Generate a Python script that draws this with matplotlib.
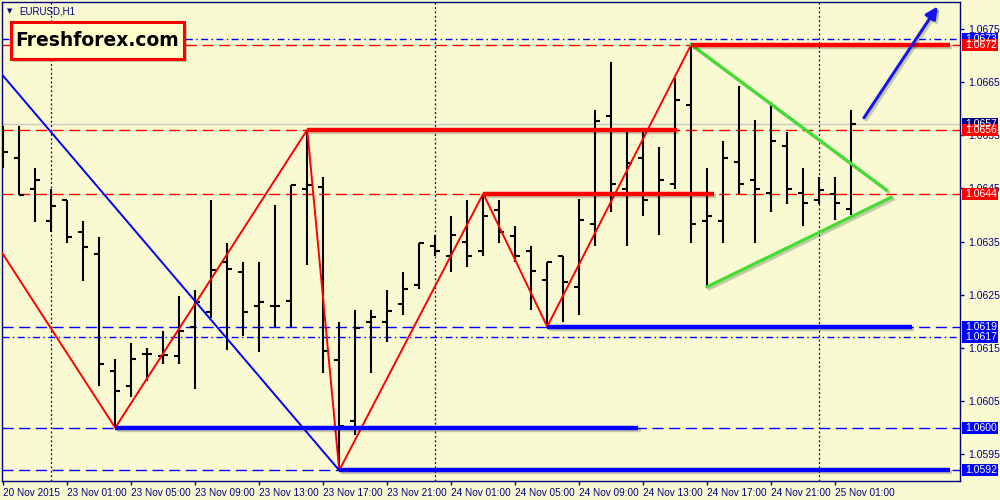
import matplotlib
matplotlib.use('Agg')
import matplotlib.pyplot as plt
import matplotlib.patheffects as pe
from matplotlib.patches import Rectangle
import numpy as np

plt.rcParams['font.family'] = ['Liberation Sans', 'DejaVu Sans']

BG = '#fafad2'; NAVY = '#000080'; RED = '#ff0000'; BLUE = '#0000ff'; GREEN = '#44dd33'

# EURUSD H1 bars, 20 Nov 21:00 .. 25 Nov 02:00
opens = [1.06541, 1.06506, 1.06449, 1.06389, 1.06428, 1.06367, 1.06327, 1.06107, 1.06079, 1.06139,
         1.06134, 1.06134, 1.06190, 1.06218, 1.06311, 1.06292, 1.06229, 1.06229, 1.06238, 1.06449,
         1.06452, 1.06127, 1.06013, 1.06199, 1.06199, 1.06233, 1.06268, 1.06341, 1.06323, 1.06349,
         1.06333, 1.06410, 1.06361, 1.06332, 1.06278, 1.06322, 1.06264, 1.06382, 1.06586, 1.06448,
         1.06506, 1.06437, 1.06458, 1.06606, 1.06389, 1.06389, 1.06499, 1.06466, 1.06442, 1.06530,
         1.06442, 1.06428, 1.06440, 1.06412]
highs = [1.06567, 1.06567, 1.06488, 1.06449, 1.06428, 1.06388, 1.06359, 1.06129, 1.06159, 1.06149,
         1.06182, 1.06248, 1.06259, 1.06428, 1.06347, 1.06311, 1.06311, 1.06418, 1.06456, 1.06560,
         1.06471, 1.06199, 1.06221, 1.06221, 1.06259, 1.06293, 1.06347, 1.06362, 1.06398, 1.06428,
         1.06440, 1.06428, 1.06380, 1.06341, 1.06311, 1.06322, 1.06430, 1.06597, 1.06687, 1.06556,
         1.06556, 1.06527, 1.06657, 1.06720, 1.06488, 1.06539, 1.06642, 1.06578, 1.06612, 1.06556,
         1.06488, 1.06471, 1.06471, 1.06597]
lows = [1.06488, 1.06437, 1.06387, 1.06367, 1.06347, 1.06276, 1.06079, 1.06000, 1.06058, 1.06087,
        1.06120, 1.06120, 1.06072, 1.06206, 1.06147, 1.06172, 1.06142, 1.06189, 1.06189, 1.06306,
        1.06103, 1.05920, 1.05986, 1.06102, 1.06162, 1.06211, 1.06261, 1.06322, 1.06292, 1.06302,
        1.06322, 1.06347, 1.06311, 1.06221, 1.06190, 1.06199, 1.06211, 1.06341, 1.06406, 1.06341,
        1.06397, 1.06362, 1.06448, 1.06347, 1.06265, 1.06347, 1.06440, 1.06347, 1.06406, 1.06421,
        1.06380, 1.06421, 1.06391, 1.06399]
closes = [1.06519, 1.06437, 1.06466, 1.06417, 1.06359, 1.06339, 1.06119, 1.06070, 1.06129, 1.06139,
          1.06137, 1.06181, 1.06237, 1.06296, 1.06298, 1.06218, 1.06237, 1.06229, 1.06456, 1.06456,
          1.06144, 1.06003, 1.06188, 1.06209, 1.06220, 1.06261, 1.06347, 1.06332, 1.06362, 1.06323,
          1.06397, 1.06368, 1.06323, 1.06294, 1.06311, 1.06273, 1.06391, 1.06577, 1.06458, 1.06497,
          1.06428, 1.06466, 1.06616, 1.06382, 1.06397, 1.06506, 1.06458, 1.06449, 1.06539, 1.06449,
          1.06423, 1.06447, 1.06423, 1.06570]

# zigzag + trend lines (bar index, price)
zz_x = [-0.06, 7, 19, 21, 30, 34, 43]
zz_y = [1.06328, 1.0600, 1.0656, 1.0592, 1.0644, 1.0619, 1.0672]
diag_x = [-0.06, 21]; diag_y = [1.06663, 1.0592]
tri_up_x = [43, 55.2]; tri_up_y = [1.0672, 1.06447]
tri_lo_x = [44, 55.5]; tri_lo_y = [1.06265, 1.06433]
arrow_from = (53.7, 1.06578); arrow_to = (58.5, 1.06796)

# support / resistance levels: price, start bar, end bar
res_levels = [(1.0672, 43, 59.2), (1.0656, 19, 42.1), (1.0644, 30, 44.4)]
sup_levels = [(1.0619, 34, 56.8), (1.0600, 7, 39.7), (1.0592, 21, 59.2)]
dashdot_levels = [1.0673, 1.0617]
bid = 1.0657

yticks = [1.0595, 1.0605, 1.0615, 1.0625, 1.0635, 1.0645, 1.0655, 1.0665, 1.0675]
xtick_pos = [0, 4, 8, 12, 16, 20, 24, 28, 32, 36, 40, 44, 48, 52]
xtick_lab = ['20 Nov 2015', '23 Nov 01:00', '23 Nov 05:00', '23 Nov 09:00', '23 Nov 13:00',
             '23 Nov 17:00', '23 Nov 21:00', '24 Nov 01:00', '24 Nov 05:00', '24 Nov 09:00',
             '24 Nov 13:00', '24 Nov 17:00', '24 Nov 21:00', '25 Nov 01:00']
day_lines = [3, 27, 51]
# right-hand price boxes (drawn in this order)
box_prices = [1.0673, 1.0672, 1.0657, 1.0656, 1.0644, 1.0619, 1.0617, 1.0600, 1.0592]
box_colors = [BLUE, RED, NAVY, RED, RED, BLUE, BLUE, BLUE, BLUE]

fig = plt.figure(figsize=(10, 5), dpi=100, facecolor=BG)
ax = fig.add_axes([0.0023, 0.038, 0.9577, 0.958], facecolor=BG)
ax.set_xlim(-0.06, 59.8); ax.set_ylim(1.0590, 1.0680)

shadow = [pe.SimpleLineShadow(offset=(1.5, -1.5), shadow_color='k', alpha=0.2), pe.Normal()]

# level dashed lines
for p, _, _ in res_levels:
    ax.axhline(p, color=RED, lw=1, ls=(0, (8, 4)), zorder=1)
for p, _, _ in sup_levels:
    ax.axhline(p, color=BLUE, lw=1, ls=(0, (8, 4)), zorder=1)
for p in dashdot_levels:
    ax.axhline(p, color=BLUE, lw=1, ls=(0, (5, 2.5, 1, 2.5)), zorder=1)
ax.axhline(bid, color='#c8c8c8', lw=1, zorder=1)
for d in day_lines:
    ax.axvline(d, color=NAVY, lw=0.9, ls=(0, (1.5, 2)), zorder=1)

# OHLC bars
x = np.arange(len(opens))
ax.vlines(x, lows, highs, color='k', lw=1.5, zorder=3)
ax.hlines(opens, x - 0.32, x, color='k', lw=1.5, zorder=3)
ax.hlines(closes, x, x + 0.32, color='k', lw=1.5, zorder=3)

# zigzag, diagonal, triangle
ax.plot(zz_x, zz_y, color=RED, lw=1.4, zorder=4)
ax.plot(diag_x, diag_y, color=BLUE, lw=1.4, zorder=4)
ax.plot(tri_up_x, tri_up_y, color=GREEN, lw=2.3, zorder=5, path_effects=shadow)
ax.plot(tri_lo_x, tri_lo_y, color=GREEN, lw=2.3, zorder=5, path_effects=shadow)

for p, a, b in res_levels:
    ax.plot([a, b], [p, p], color=RED, lw=3.2, solid_capstyle='butt', zorder=5, path_effects=shadow)
for p, a, b in sup_levels:
    ax.plot([a, b], [p, p], color=BLUE, lw=3.2, solid_capstyle='butt', zorder=5, path_effects=shadow)

ax.annotate('', xy=arrow_to, xytext=arrow_from, annotation_clip=False,
            arrowprops=dict(arrowstyle='-|>', color='#1414f0', lw=2.2, mutation_scale=18,
                            path_effects=shadow), zorder=6)

# axes styling
for s in ax.spines.values():
    s.set_color(NAVY); s.set_linewidth(1)
ax.yaxis.tick_right()
ax.set_yticks(yticks)
ax.set_yticklabels([f'{v:.4f}' for v in yticks])
ax.set_xticks(xtick_pos)
ax.set_xticklabels(xtick_lab, ha='left')
ax.tick_params(axis='both', colors=NAVY, labelcolor=NAVY, length=3, width=1, direction='out')
ax.tick_params(axis='x', pad=2, labelsize=7.2)
ax.tick_params(axis='y', pad=3, labelsize=7.5)

# price boxes on the right
H = 500.0
def ypx(p):
    return 2 + (1.0680 - p) / 0.009 * 479
for p, c in zip(box_prices, box_colors):
    yc = ypx(p)
    fig.patches.append(Rectangle((962 / 1000, 1 - (yc + 6) / H), 36 / 1000, 12 / H,
                                 transform=fig.transFigure, facecolor=c, edgecolor='none', zorder=10))
    fig.text(965 / 1000, 1 - yc / H, f'{p:.4f}', color='white', fontsize=7.5, va='center',
             ha='left', zorder=11)

# header and logo
fig.text(10 / 1000, 1 - 11 / H, '\u25bc', color=NAVY, fontsize=5, va='center', ha='center',
         family='DejaVu Sans')
fig.text(19 / 1000, 1 - 11 / H, 'EURUSD,H1', color=NAVY, fontsize=7, va='center')
fig.patches.append(Rectangle((14 / 1000, 1 - 62 / H), 173 / 1000, 37 / H, transform=fig.transFigure,
                             facecolor='#000000', alpha=0.2, edgecolor='none', zorder=10))
fig.patches.append(Rectangle((11 / 1000, 1 - 59 / H), 173 / 1000, 37 / H, transform=fig.transFigure,
                             facecolor='#ffffcc', edgecolor=RED, lw=2.2, zorder=11))
fig.text(97 / 1000, 1 - 41 / H, 'Freshforex.com', color='k', fontsize=13.5, fontweight='bold',
         va='center', ha='center', zorder=12, family='DejaVu Sans')

fig.savefig('out.png', dpi=100, facecolor=BG)
